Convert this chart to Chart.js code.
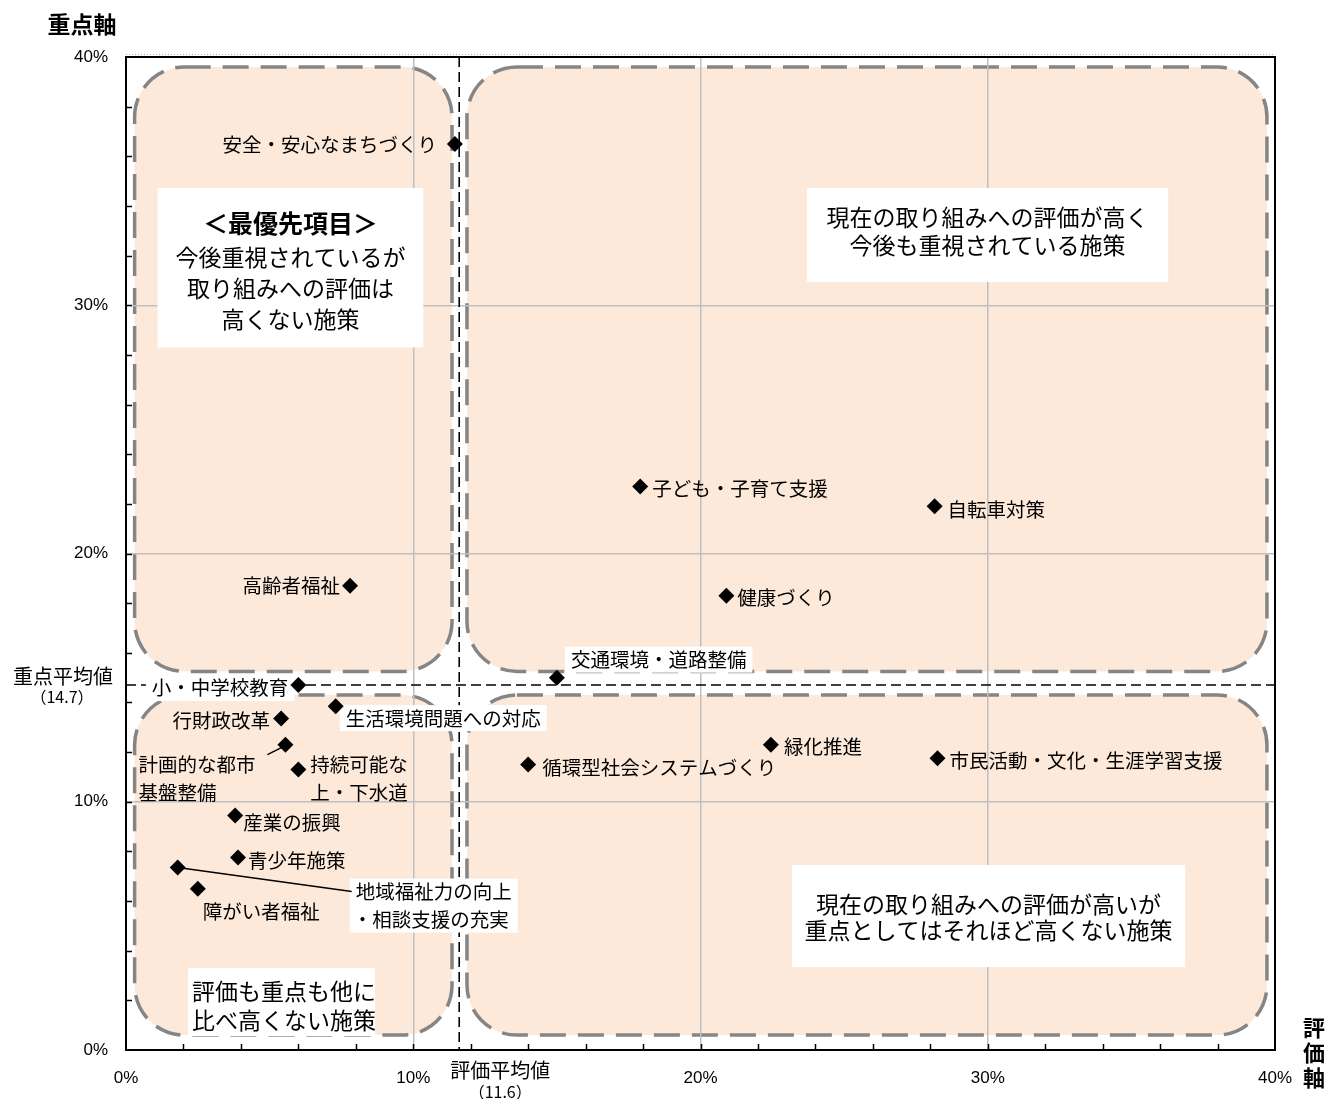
<!DOCTYPE html>
<html>
<head>
<meta charset="utf-8">
<script src="https://cdn.jsdelivr.net/npm/chart.js@4.4.0/dist/chart.umd.min.js"></script>
<style>
  html, body { margin: 0; padding: 0; background: #fff; }
</style>
</head>
<body>
<canvas id="matrix" width="1328" height="1099"></canvas>
<script>
// データ（評価軸 = x、重点軸 = y、単位 %）
const names = [
    '安全・安心なまちづくり', '子ども・子育て支援', '自転車対策', '健康づくり', '高齢者福祉',
    '交通環境・道路整備', '小・中学校教育', '生活環境問題への対応', '行財政改革', '計画的な都市基盤整備',
    '持続可能な上・下水道', '緑化推進', '循環型社会システムづくり', '市民活動・文化・生涯学習支援', '産業の振興',
    '青少年施策', '地域福祉力の向上・相談支援の充実', '障がい者福祉'
];
const evalValues = [11.45, 17.9, 28.15, 20.9, 7.8, 15.0, 6.0, 7.3, 5.4, 5.55, 6.0, 22.45, 14.0, 28.25, 3.8, 3.9, 1.8, 2.5];
const priorityValues = [36.5, 22.7, 21.9, 18.3, 18.7, 15.0, 14.7, 13.85, 13.35, 12.3, 11.3, 12.3, 11.5, 11.75, 9.45, 7.75, 7.35, 6.5];
const evalAvg = 11.6;
const priorityAvg = 14.7;
const axisMin = 0, axisMax = 40, minorStep = 2, majorStep = 10;

// ラベル配置（点からのずれ、px）
const labelLayout = [
    { dx: -18, dy: 1, align: 'right' },
    { dx: 12, dy: 2 },
    { dx: 13, dy: 3 },
    { dx: 11, dy: 2 },
    { dx: -10, dy: 0, align: 'right' },
    { dx: 14, dy: -18, bg: true },
    { dx: -10, dy: 3, align: 'right', bg: true },
    { dx: 10, dy: 12, bg: true },
    { dx: -11, dy: 2, align: 'right' },
    { dx: -147, dy: 20, breakAt: 6, lead: [-2, 2, -18, 10] },
    { dx: 12, dy: -5, breakAt: 5 },
    { dx: 13, dy: 2 },
    { dx: 14, dy: 3 },
    { dx: 12, dy: 2 },
    { dx: 8, dy: 7 },
    { dx: 10, dy: 3 },
    { dx: 178, dy: 24, breakAt: 8, bg: true, lead: [0, 0, 174, 24], lineDx: [0, -3] },
    { dx: 5, dy: 23 }
];

// 4象限の背景（データ単位）
const quadrants = [
    { x0: 0.3, x1: 11.35, y0: 15.25, y1: 39.6 },
    { x0: 11.87, x1: 39.72, y0: 15.25, y1: 39.6 },
    { x0: 0.3, x1: 11.35, y0: 0.6, y1: 14.3 },
    { x0: 11.87, x1: 39.72, y0: 0.6, y1: 14.3 }
];

// 説明ボックス（データ単位、行は上端からのpx）
const noteBoxes = [
    { x0: 1.1, x1: 10.35, y0: 28.3, y1: 34.72, lines: [
        { t: '＜最優先項目＞', dy: 35, bold: true },
        { t: '今後重視されているが', dy: 69 },
        { t: '取り組みへの評価は', dy: 100 },
        { t: '高くない施策', dy: 131 }] },
    { x0: 23.71, x1: 36.28, y0: 30.94, y1: 34.72, lines: [
        { t: '現在の取り組みへの評価が高く', dy: 29 },
        { t: '今後も重視されている施策', dy: 57 }] },
    { x0: 23.19, x1: 36.87, y0: 3.34, y1: 7.45, lines: [
        { t: '現在の取り組みへの評価が高いが', dy: 39 },
        { t: '重点としてはそれほど高くない施策', dy: 65 }] },
    { x0: 2.16, x1: 8.67, y0: 0.56, y1: 3.3, align: 'left', lines: [
        { t: '評価も重点も他に', dy: 23 },
        { t: '比べ高くない施策', dy: 52 }] }
];

const JP = '"Noto Sans CJK JP", "Noto Sans", sans-serif';

function roundRect(ctx, x, y, w, h, r) {
    ctx.beginPath();
    ctx.moveTo(x + r, y);
    ctx.arcTo(x + w, y, x + w, y + h, r);
    ctx.arcTo(x + w, y + h, x, y + h, r);
    ctx.arcTo(x, y + h, x, y, r);
    ctx.arcTo(x, y, x + w, y, r);
    ctx.closePath();
}

const matrixPlugin = {
    id: 'matrix',
    beforeDraw(chart) {
        const { ctx, scales: { x, y } } = chart;
        ctx.save();
        quadrants.forEach(q => {
            const l = x.getPixelForValue(q.x0), r = x.getPixelForValue(q.x1);
            const t = y.getPixelForValue(q.y1), b = y.getPixelForValue(q.y0);
            roundRect(ctx, l, t, r - l, b - t, 50);
            ctx.fillStyle = '#fde9da';
            ctx.fill();
            ctx.setLineDash([26, 12]);
            ctx.lineWidth = 3.5;
            ctx.strokeStyle = '#858585';
            ctx.stroke();
        });
        ctx.restore();
    },
    beforeDatasetsDraw(chart) {
        const { ctx, chartArea: a, scales: { x, y } } = chart;
        ctx.save();
        // 説明ボックス
        noteBoxes.forEach(nb => {
            const l = x.getPixelForValue(nb.x0), r = x.getPixelForValue(nb.x1);
            const t = y.getPixelForValue(nb.y1), b = y.getPixelForValue(nb.y0);
            ctx.fillStyle = '#fff';
            ctx.fillRect(l, t, r - l, b - t);
            ctx.fillStyle = '#000';
            ctx.textBaseline = 'middle';
            nb.lines.forEach(ln => {
                ctx.font = (ln.bold ? 'bold 25px ' : '23px ') + JP;
                if (nb.align === 'left') {
                    ctx.textAlign = 'left';
                    ctx.fillText(ln.t, l + 4, t + ln.dy);
                } else {
                    ctx.textAlign = 'center';
                    ctx.fillText(ln.t, (l + r) / 2, t + ln.dy);
                }
            });
        });
        // 平均線
        const ax = x.getPixelForValue(evalAvg), ay = y.getPixelForValue(priorityAvg);
        ctx.setLineDash([10, 5]);
        ctx.lineWidth = 1.6;
        ctx.strokeStyle = '#000';
        ctx.beginPath();
        ctx.moveTo(ax, a.top); ctx.lineTo(ax, a.bottom);
        ctx.moveTo(a.left, ay); ctx.lineTo(a.right, ay);
        ctx.stroke();
        ctx.setLineDash([]);
        // 点ラベル
        ctx.font = '19.5px ' + JP;
        ctx.textBaseline = 'middle';
        names.forEach((name, i) => {
            const lay = labelLayout[i];
            const px = x.getPixelForValue(evalValues[i]), py = y.getPixelForValue(priorityValues[i]);
            const lines = lay.breakAt ? [name.slice(0, lay.breakAt), name.slice(lay.breakAt)] : [name];
            const align = lay.align || 'left';
            const lh = 28;
            if (lay.bg) {
                const w = Math.max(...lines.map(s => ctx.measureText(s).width));
                const left = align === 'right' ? px + lay.dx - w : px + lay.dx;
                ctx.fillStyle = '#fff';
                ctx.fillRect(left - 6, py + lay.dy - 13, w + 12, lines.length * lh - 2);
            }
            if (lay.lead) {
                ctx.strokeStyle = '#000';
                ctx.lineWidth = 1.5;
                ctx.beginPath();
                ctx.moveTo(px + lay.lead[0], py + lay.lead[1]);
                ctx.lineTo(px + lay.lead[2], py + lay.lead[3]);
                ctx.stroke();
            }
            ctx.fillStyle = '#000';
            ctx.textAlign = align;
            lines.forEach((s, k) => {
                const off = lay.lineDx ? lay.lineDx[k] : 0;
                ctx.fillText(s, px + lay.dx + off, py + lay.dy + k * lh);
            });
        });
        ctx.restore();
    },
    afterDraw(chart) {
        const { ctx, chartArea: a, scales: { x, y } } = chart;
        ctx.save();
        // 枠
        ctx.strokeStyle = '#000';
        ctx.lineWidth = 2;
        ctx.strokeRect(a.left, a.top, a.right - a.left, a.bottom - a.top);
        ctx.strokeStyle = '#b0b0b0';
        ctx.lineWidth = 1;
        ctx.setLineDash([1, 2]);
        ctx.beginPath();
        ctx.moveTo(a.left, a.top - 2.5); ctx.lineTo(a.right, a.top - 2.5);
        ctx.stroke();
        ctx.setLineDash([]);
        // 内向き目盛
        ctx.strokeStyle = '#000';
        ctx.lineWidth = 1.5;
        ctx.beginPath();
        for (let v = axisMin + minorStep; v < axisMax; v += minorStep) {
            const yy = Math.round(y.getPixelForValue(v)) + 0.5;
            ctx.moveTo(a.left, yy); ctx.lineTo(a.left + 6, yy);
            const xx = Math.round(x.getPixelForValue(v)) + 0.5;
            ctx.moveTo(xx, a.bottom); ctx.lineTo(xx, a.bottom - 6);
        }
        ctx.stroke();
        // 軸タイトル
        ctx.fillStyle = '#000';
        ctx.textBaseline = 'middle';
        ctx.textAlign = 'center';
        ctx.font = 'bold 23px ' + JP;
        ctx.fillText('重点軸', 82, 24);
        ctx.font = 'bold 22px ' + JP;
        ['評', '価', '軸'].forEach((c, k) => ctx.fillText(c, 1314, 1028 + k * 25));
        const ax = x.getPixelForValue(evalAvg), ay = y.getPixelForValue(priorityAvg);
        ctx.font = '20px ' + JP;
        ctx.fillText('重点平均値', 63, ay - 9);
        ctx.fillText('評価平均値', ax + 41, a.bottom + 20);
        ctx.font = '16px ' + JP;
        ctx.fillText('（14.7）', 62, ay + 12);
        ctx.fillText('（11.6）', ax + 41, a.bottom + 42);
        ctx.restore();
    }
};

const gridColor = c => (c.tick && c.tick.value % majorStep === 0 && c.tick.value > axisMin && c.tick.value < axisMax) ? '#bfbfbf' : 'rgba(0,0,0,0)';
const tickLabel = v => (v % majorStep === 0 ? v + '%' : '');

new Chart(document.getElementById('matrix'), {
    type: 'scatter',
    data: {
        datasets: [{
            data: evalValues.map((v, i) => ({ x: v, y: priorityValues[i] })),
            pointStyle: 'rectRot',
            pointRadius: 8,
            pointHoverRadius: 8,
            backgroundColor: '#000',
            borderWidth: 0
        }]
    },
    options: {
        responsive: false,
        animation: false,
        devicePixelRatio: 1,
        layout: { padding: { left: 0, top: 57, right: 53, bottom: 0 } },
        plugins: { legend: { display: false }, tooltip: { enabled: false } },
        scales: {
            x: {
                type: 'linear',
                min: axisMin,
                max: axisMax,
                afterFit: s => { s.height = 49; },
                grid: { color: gridColor, lineWidth: 1.5, drawTicks: false },
                border: { display: true, color: '#000', width: 2 },
                ticks: {
                    stepSize: minorStep,
                    autoSkip: false,
                    maxRotation: 0,
                    padding: 18,
                    color: '#000',
                    font: { family: '"Liberation Sans", Arial, sans-serif', size: 17 },
                    callback: tickLabel
                }
            },
            y: {
                type: 'linear',
                min: axisMin,
                max: axisMax,
                afterFit: s => { s.width = 126; },
                grid: { color: gridColor, lineWidth: 1.5, drawTicks: false },
                border: { display: true, color: '#000', width: 2 },
                ticks: {
                    stepSize: minorStep,
                    autoSkip: false,
                    padding: 18,
                    color: '#000',
                    font: { family: '"Liberation Sans", Arial, sans-serif', size: 17 },
                    callback: tickLabel
                }
            }
        }
    },
    plugins: [matrixPlugin]
});
</script>
</body>
</html>
